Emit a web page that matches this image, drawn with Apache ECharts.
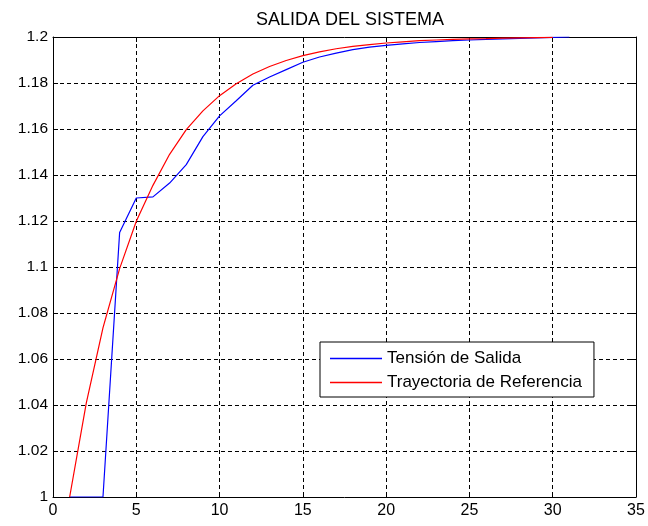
<!DOCTYPE html>
<html>
<head>
<meta charset="utf-8">
<script src="https://cdn.jsdelivr.net/npm/echarts@6/dist/echarts.min.js"></script>
<style>
  html, body { margin: 0; padding: 0; background: #fff; }
  #chart { width: 648px; height: 526px; }
</style>
</head>
<body>
<div id="chart"></div>
<script>
// Output voltage of the system vs. reference trajectory
const chartTitle = 'SALIDA DEL SISTEMA';
const outputName = 'Tensión de Salida';
const referenceName = 'Trayectoria de Referencia';

const outputTime = [1, 2, 3, 4, 5, 6, 7, 8, 9, 10, 11, 12, 13, 14, 15, 16, 17, 18, 19, 20,
  21, 22, 23, 24, 25, 26, 27, 28, 29, 30, 31];
const outputValues = [1.0, 1.0, 1.0, 1.115, 1.130, 1.1305, 1.1365, 1.1445, 1.1567, 1.1657,
  1.1723, 1.179, 1.1826, 1.1858, 1.189, 1.1913, 1.193, 1.1945, 1.1956, 1.1964,
  1.197, 1.1976, 1.198, 1.1984, 1.1987, 1.199, 1.1992, 1.1994, 1.1996, 1.1998, 1.2];

const referenceTime = [1, 2, 3, 4, 5, 6, 7, 8, 9, 10, 11, 12, 13, 14, 15, 16, 17, 18, 19, 20,
  21, 22, 23, 24, 25, 26, 27, 28, 29, 30];
const referenceValues = [1.0, 1.0409, 1.0735, 1.0993, 1.1199, 1.1355, 1.1490, 1.1597, 1.1679, 1.1745,
  1.1797, 1.1839, 1.1872, 1.1898, 1.1919, 1.1935, 1.1949, 1.1959, 1.1967, 1.1974,
  1.1979, 1.1984, 1.1987, 1.1990, 1.1992, 1.1993, 1.1995, 1.1996, 1.1997, 1.1998];

const xTicks = [0, 5, 10, 15, 20, 25, 30, 35];
const yTicks = [1, 1.02, 1.04, 1.06, 1.08, 1.1, 1.12, 1.14, 1.16, 1.18, 1.2];

const FONT = '"Liberation Sans", Arial, sans-serif';
const pairs = (xs, ys) => xs.map((x, i) => [x, ys[i]]);

const gridLine = { show: true, lineStyle: { color: '#000', type: [4, 3], width: 1 } };
const boxLine = { show: true, onZero: false, lineStyle: { color: '#000', width: 1 } };
const inTick = { show: true, inside: true, length: 5, lineStyle: { color: '#000' } };

const chart = echarts.init(document.getElementById('chart'), null, { renderer: 'canvas' });
chart.setOption({
  animation: false,
  backgroundColor: '#fff',
  title: {
    text: chartTitle,
    left: 345, top: 6, textAlign: 'center',
    textStyle: { fontFamily: FONT, fontSize: 18, fontWeight: 'normal', color: '#000' }
  },
  grid: { left: 53, right: 12, top: 37, bottom: 29, containLabel: false },
  legend: {
    orient: 'vertical',
    left: 320, top: 342,
    padding: [8, 12, 6, 10],
    itemGap: 7,
    itemWidth: 52, itemHeight: 1.6,
    icon: 'rect',
    backgroundColor: '#fff',
    borderColor: '#000', borderWidth: 1, borderRadius: 0,
    textStyle: { fontFamily: FONT, fontSize: 17, color: '#000' },
    data: [outputName, referenceName]
  },
  xAxis: [
    {
      type: 'value', min: xTicks[0], max: xTicks[xTicks.length - 1], interval: 5,
      axisLine: boxLine, axisTick: inTick, splitLine: gridLine,
      axisLabel: { fontFamily: FONT, fontSize: 16, color: '#000', margin: 6 }
    },
    {
      type: 'value', position: 'top', min: 0, max: 35, interval: 5,
      axisLine: boxLine, axisTick: inTick, splitLine: { show: false },
      axisLabel: { show: false }
    }
  ],
  yAxis: [
    {
      type: 'value', min: yTicks[0], max: yTicks[yTicks.length - 1], interval: 0.02,
      axisLine: boxLine, axisTick: inTick, splitLine: gridLine,
      axisLabel: {
        fontFamily: FONT, fontSize: 15.5, color: '#000', margin: 5,
        formatter: v => String(yTicks.find(t => Math.abs(t - v) < 1e-9) ?? +v.toFixed(2))
      }
    },
    {
      type: 'value', position: 'right', min: 1, max: 1.2, interval: 0.02,
      axisLine: boxLine, axisTick: inTick, splitLine: { show: false },
      axisLabel: { show: false }
    }
  ],
  series: [
    {
      name: outputName, type: 'line', data: pairs(outputTime, outputValues),
      showSymbol: false, symbol: 'none', z: 3,
      lineStyle: { color: '#0000ff', width: 1.2 }, itemStyle: { color: '#0000ff' }
    },
    {
      name: referenceName, type: 'line', data: pairs(referenceTime, referenceValues),
      showSymbol: false, symbol: 'none', z: 4,
      lineStyle: { color: '#ff0000', width: 1.2 }, itemStyle: { color: '#ff0000' }
    }
  ]
});
</script>
</body>
</html>
